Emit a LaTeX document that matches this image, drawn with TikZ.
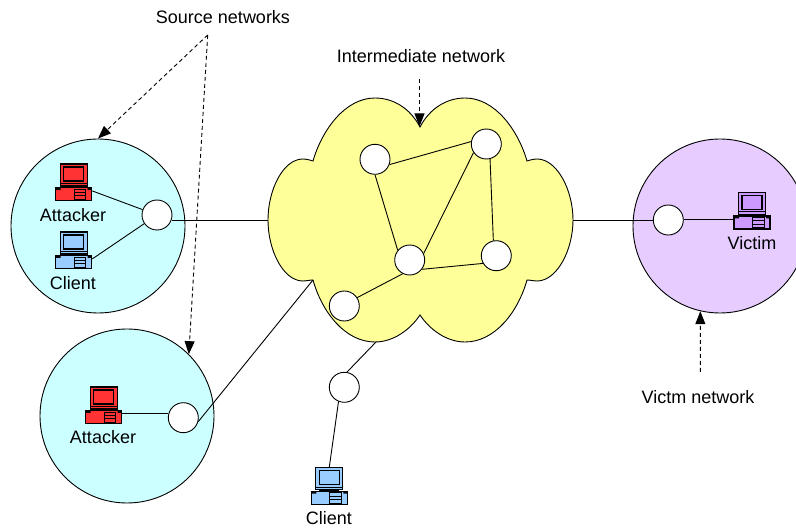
\documentclass[tikz,border=0pt]{standalone}
\usepackage{fontspec}
\setmainfont{Liberation Sans}
\usepackage{xcolor}
\usetikzlibrary{positioning,arrows.meta}

\definecolor{netcyan}{HTML}{CCFFFF}
\definecolor{netviolet}{HTML}{E6CCFF}
\definecolor{cloudyellow}{HTML}{FFFF99}
\definecolor{pcred}{HTML}{FF3333}
\definecolor{pcblue}{HTML}{99CCFF}
\definecolor{pcviolet}{HTML}{CC99FF}

\tikzset{
  link/.style={line width=0.9pt},
  pointer/.style={line width=0.9pt, dash pattern=on 4pt off 3pt, -{Triangle[length=13pt,width=10pt]}},
  router/.style={circle, draw, fill=white, line width=0.9pt, minimum size=30pt, inner sep=0pt},
  subnet/.style={circle, draw, line width=0.9pt, minimum size=174pt, inner sep=0pt},
  tag/.style={font=\fontsize{18}{20}\selectfont, inner sep=0pt},
  computer/.pic={
    \node[draw, fill=#1, line width=1.2pt, minimum width=27pt, minimum height=22pt, inner sep=0pt] (-screen) at (0,-7) {};
    \draw[fill=#1, line width=1.2pt] (-10,-15) rectangle (10,-1);
    \draw[line width=1.2pt] (-13.5,1.5) -- (13.5,1.5);
    \fill (-10,4) rectangle (10,5.7);
    \node[draw, fill=#1, line width=1.2pt, minimum width=36pt, minimum height=13pt, inner sep=0pt] (-base) at (0,12.2) {};
    \fill (-18,5.7) rectangle (-13,8) (14,5.7) rectangle (18,8);
    \draw[line width=1pt] (0.6,7.3) rectangle (12,17.3);
    \draw[line width=1pt] (0.6,10.5) -- (12,10.5) (0.6,14) -- (12,14);
  }
}

\begin{document}
\begin{tikzpicture}[x=1pt, y=-1pt]
\useasboundingbox (0,0) rectangle (796,529);
\clip (0,0) rectangle (796,529);

% Subnets
\node[subnet, fill=netcyan] (srcA) at (98,226) {};
\node[subnet, fill=netcyan] (srcB) at (127,416) {};
\node[subnet, fill=netviolet] (vicnet) at (720,226) {};

% Cloud
\draw[fill=cloudyellow, line width=0.9pt] (420,127)
  .. controls (410,108) and (393,98) .. (375,98)
  .. controls (345,98) and (322,130) .. (313,161)
  .. controls (310,160) and (306,159) .. (303,159)
  .. controls (283,159) and (268,190) .. (268,220)
  .. controls (268,250) and (283,281) .. (303,281)
  .. controls (306,281) and (310,280) .. (313,280)
  .. controls (322,312) and (345,342) .. (375,342)
  .. controls (393,342) and (410,330) .. (420,315)
  .. controls (430,330) and (447,342) .. (465,342)
  .. controls (495,342) and (518,312) .. (527,280)
  .. controls (530,280) and (534,281) .. (537,281)
  .. controls (557,281) and (573,250) .. (573,220)
  .. controls (573,190) and (557,159) .. (537,159)
  .. controls (534,159) and (530,160) .. (527,161)
  .. controls (518,130) and (495,98) .. (465,98)
  .. controls (447,98) and (430,108) .. (420,127) -- cycle;
\coordinate (cloudW) at (268,220);
\coordinate (cloudE) at (573,220);
\coordinate (cloudSW) at (313,280);
\coordinate (cloudS) at (376,342);
\coordinate (cloudN) at (419.5,126.5);

% Routers inside the cloud
\node[router] (r1) at (375,159.3) {};
\node[router] (r2) at (486.3,144) {};
\node[router] (r3) at (409.7,260) {};
\node[router] (r4) at (496.3,255.7) {};
\node[router] (r5) at (344.3,306) {};

% Edge routers
\node[router] (ra) at (157,215) {};
\node[router] (rb) at (183.3,417.7) {};
\node[router] (rc) at (344.3,387.3) {};
\node[router] (rv) at (668.3,220) {};

% Computers
\pic (atk1) at (73.7,182) {computer=pcred};
\pic (cli1) at (73.7,250) {computer=pcblue};
\pic (atk2) at (103.7,405) {computer=pcred};
\pic (cli2) at (329.3,485.7) {computer=pcblue};
\pic (vic) at (752,210.3) {computer=pcviolet};

% Labels
\node[tag] (latk1) at (73,215) {Attacker};
\node[tag] (lcli1) at (73,283) {Client};
\node[tag] (latk2) at (103,437) {Attacker};
\node[tag] (lcli2) at (329,518) {Client};
\node[tag] (lvic) at (752,243) {Victim};
\node[tag] (lsrc) at (223,17) {Source networks};
\node[tag] (lint) at (421,56) {Intermediate network};
\node[tag] (lvicnet) at (698,397) {Victm network};

% Free ends of the pointers
\coordinate (psrc) at (207.7,35);
\coordinate (pint) at (419.5,79);
\coordinate (pvic) at (700.4,372);

% Links inside the cloud
\draw[link] (r1.-20) -- (r2.171);
\draw[link] (r1.south) -- (r3.141);
\draw[link] (r2.214) -- (r3.25);
\draw[link] (r2.-76) -- (r4.101);
\draw[link] (r3.-37) -- (r4.210);
\draw[link] (r3.243) -- (r5.33);

% Links outside the cloud
\draw[link] (ra.-20) -- (ra.-20 -| cloudW);
\draw[link] (rb.-15) -- (cloudSW);
\draw[link] (rc.80) -- (cloudS);
\draw[link] (rc.248) -- (cli2-screen.north);
\draw[link] (rv) -- (cloudE |- rv);
\draw[link] (atk1-base.10) -- (ra);
\draw[link] (cli1-base.10) -- (ra);
\draw[link] (atk2-base.10) -- (atk2-base.10 -| rb.west);
\draw[link] (vic-base.170) -- (vic-base.170 -| rv.east);

% Pointers
\draw[pointer] (psrc) -- (srcA.north);
\draw[pointer] (psrc) -- (srcB.45);
\draw[pointer] (pint) -- (cloudN);
\draw[pointer] (pvic) -- (vicnet.257);
\end{tikzpicture}
\end{document}
